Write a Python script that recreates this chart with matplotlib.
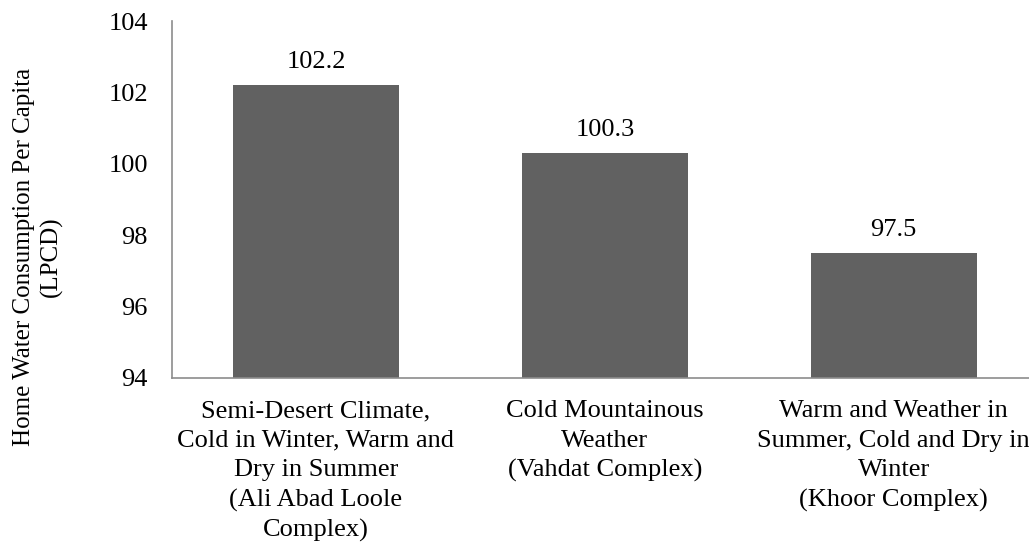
import matplotlib
matplotlib.use('Agg')
from matplotlib import pyplot as plt

plt.rcParams['font.family'] = ['Liberation Serif', 'DejaVu Serif']

categories = ['Semi-Desert Climate,\nCold in Winter, Warm and\nDry in Summer\n(Ali Abad Loole\nComplex)',
              'Cold Mountainous\nWeather\n(Vahdat Complex)',
              'Warm and Weather in\nSummer, Cold and Dry in\nWinter\n(Khoor Complex)']
consumption = [102.2, 100.3, 97.5]
y_ticks = [94, 96, 98, 100, 102, 104]

fs = 19

fig = plt.figure(figsize=(10.29, 5.46), dpi=100)
# axes run a bit past the right edge, as in the source image
ax = fig.add_axes([171.6 / 1029, 1 - 378 / 546, (1038 - 171.6) / 1029, (378 - 21) / 546])

x = range(len(categories))
ax.bar(x, consumption, width=0.575, color='#616161')
for i, v in enumerate(consumption):
    ax.annotate('%.1f' % v, xy=(i, v), xytext=(0, 9), textcoords='offset points',
                ha='center', va='bottom', fontsize=fs)

ax.set_xlim(-0.5, len(categories) - 0.5)
ax.set_ylim(94, 104)
ax.set_yticks(y_ticks)
ax.set_yticklabels([str(t) for t in y_ticks], fontsize=fs)
ax.set_xticks(list(x))
ax.set_xticklabels(categories, fontsize=fs, linespacing=1.43)
ax.tick_params(axis='y', length=0, pad=17)
ax.tick_params(axis='x', length=0, pad=16)

for s in ['top', 'right']:
    ax.spines[s].set_visible(False)
for s in ['left', 'bottom']:
    ax.spines[s].set_color('#8c8c8c')
    ax.spines[s].set_linewidth(1.2)

ax.set_ylabel('Home Water Consumption Per Capita\n(LPCD)', fontsize=18, linespacing=1.3,
              va='center', ha='center')
ax.yaxis.set_label_coords((38 - 171.6) / (1038 - 171.6), (378 - 257) / (378 - 21))

fig.savefig('out.png', dpi=100)
